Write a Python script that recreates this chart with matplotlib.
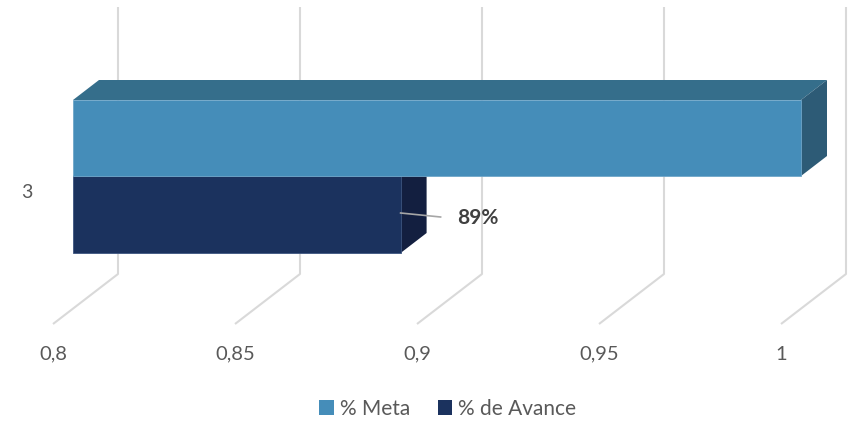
import matplotlib
matplotlib.use("Agg")
import matplotlib.pyplot as plt
from matplotlib.patches import Polygon, Rectangle

# ---- data ----
categories = ["3"]
series_names = ["% Meta", "% de Avance"]
meta_values = [1.0]
avance_values = [0.89]
tick_values = [0.8, 0.85, 0.9, 0.95, 1.0]
tick_labels = ["0,8", "0,85", "0,9", "0,95", "1"]
data_label = "89%"

# ---- style ----
meta_front, meta_top, meta_side = "#458DB9", "#356E8B", "#2D5B76"
av_front, av_top, av_side = "#1B325E", "#172A50", "#131F40"
grid_c = "#D9D9D9"
text_c = "#595959"
FONT = ["Lato", "DejaVu Sans"]

W, H = 853, 422
fig = plt.figure(figsize=(W / 100, H / 100), dpi=100)
ax = fig.add_axes([0, 0, 1, 1])
ax.axis("off")

# x mapping: data value -> pixel on front floor plane
X0PX, PXU = 53.0, 3640.0
vmin = tick_values[0]
ax.set_xlim(vmin - X0PX / PXU, vmin + (W - X0PX) / PXU)
ax.set_ylim(H, 0)

DX = 65.0 / PXU
DY = -50.0

def P(v, y, d):
    return (v + d * DX, y + d * DY)

# gridlines: back wall vertical + floor diagonal
y_top, y_floor_front = 7, 324
y_bend = y_floor_front + DY
for tv in tick_values:
    xs = [P(tv, 0, 1)[0], P(tv, 0, 1)[0], P(tv, 0, 0)[0]]
    ys = [y_top, y_bend, y_floor_front]
    ax.plot(xs, ys, color=grid_c, lw=1.5, solid_capstyle="butt", zorder=1)

# bars
d1, d2 = 20 / 65, 46 / 65
band_top, band_h = 100, 76

def bar3d(v, ytop, h, front, top, side, edge, z):
    yb = ytop + h
    f = [(vmin, ytop), (v, ytop), (v, yb), (vmin, yb)]
    def sh(pt, d):
        return (pt[0] + d * DX, pt[1] + (d - d1) * DY)
    F = [sh(p, d1) for p in f]
    B = [sh(p, d2) for p in f]
    ax.add_patch(Polygon([F[0], F[1], B[1], B[0]], closed=True, fc=top, ec="none", zorder=z))
    ax.add_patch(Polygon([F[1], B[1], B[2], F[2]], closed=True, fc=side, ec="none", zorder=z))
    ax.add_patch(Polygon(F, closed=True, fc=front, ec=edge, lw=0.6, zorder=z + 0.5))
    return F

Fa = bar3d(avance_values[0], band_top + band_h, band_h + 1, av_front, av_top, av_side, "#3D5580", 3)
Fm = bar3d(meta_values[0], band_top, band_h, meta_front, meta_top, meta_side, "#6FA6C9", 5)

# data label with leader line
x_end = Fa[1][0]
ax.plot([x_end, x_end + 30 / PXU, x_end + 40 / PXU], [213, 216, 217], color="#A6A6A6", lw=1.2, zorder=6)
ax.text(x_end + 57 / PXU, 218, data_label, fontsize=15, fontweight="bold", color="#404040",
        ha="left", va="center", family=FONT, zorder=7)

# category label
ax.text(P(vmin, 0, 0)[0] - 26 / PXU, 192, categories[0], fontsize=14, color=text_c,
        ha="center", va="center", family=FONT)

# tick labels
for tv, tl in zip(tick_values, tick_labels):
    ax.text(P(tv, 0, 0)[0], 354, tl, fontsize=14.5, color=text_c, ha="center", va="center", family=FONT)

# legend
handles = [Rectangle((0, 0), 1, 1, fc=meta_front, ec="none"),
           Rectangle((0, 0), 1, 1, fc=av_front, ec="none")]
leg = fig.legend(handles, series_names, loc="center", bbox_to_anchor=(448 / W, 1 - 409 / H),
                 ncol=2, frameon=False, handlelength=0.7, handleheight=0.7, handletextpad=0.3,
                 columnspacing=1.3, prop={"family": FONT, "size": 15})
for t in leg.get_texts():
    t.set_color(text_c)

fig.savefig("out.png", dpi=100)
